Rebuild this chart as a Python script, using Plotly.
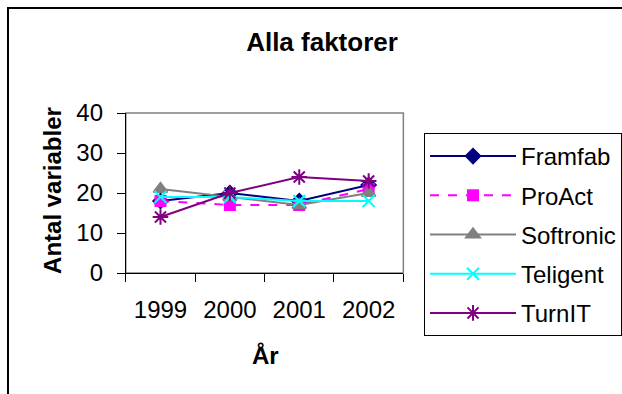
import plotly.graph_objects as go

W, H = 622, 394
years = ["1999", "2000", "2001", "2002"]
framfab = [18, 20, 18, 22]
proact = [18, 17, 17, 21]
softronic = [21, 19, 17, 20]
teligent = [19, 19, 18, 18]
turnit = [14, 20, 24, 23]

series = [
    ("Framfab", framfab, "#000080", "diamond", 11, "solid"),
    ("ProAct", proact, "#FF00FF", "square", 10, "dash"),
    ("Softronic", softronic, "#808080", "triangle-up", 12, "solid"),
    ("Teligent", teligent, "#00FFFF", "x-thin-open", 12, "solid"),
    ("TurnIT", turnit, "#800080", "asterisk-open", 13, "solid"),
]

FONT = "Liberation Sans, Arial, sans-serif"
fig = go.Figure()
for name, vals, col, sym, sz, dash in series:
    fig.add_trace(go.Scatter(
        x=years, y=vals, name=name, mode="lines+markers", legendgroup=name,
        line=dict(color=col, width=2, dash=dash),
        marker=dict(symbol=sym, size=sz, color=col, line=dict(color=col, width=2)),
    ))

px0, px1 = 126, 404
py0, py1 = 113, 273
fig.update_layout(
    template="none",
    width=W, height=H,
    margin=dict(l=0, r=0, t=0, b=0),
    paper_bgcolor="white", plot_bgcolor="white",
    font=dict(family=FONT, size=24, color="black"),
    showlegend=True,
    title=dict(text="<b>Alla faktorer</b>", x=322 / W, y=1 - 42 / H,
               xanchor="center", yanchor="middle",
               font=dict(family=FONT, size=26, color="black")),
    xaxis=dict(domain=[px0 / W, px1 / W], type="category", range=[-0.5, 3.5],
               automargin=False,
               showline=True, linecolor="black", linewidth=1,
               ticks="outside", tickson="boundaries", ticklen=8, tickcolor="black",
               showgrid=False, zeroline=False, ticklabelstandoff=15),
    yaxis=dict(domain=[1 - py1 / H, 1 - py0 / H], range=[0, 40], dtick=10,
               automargin=False,
               showline=True, linecolor="black", linewidth=1,
               ticks="outside", ticklen=8, tickcolor="black",
               showgrid=False, zeroline=False, ticklabelstandoff=9),
    legend=dict(x=425 / W, y=1 - 133 / H, xanchor="left", yanchor="top",
                bordercolor="black", borderwidth=1, bgcolor="white",
                font=dict(family=FONT, size=24), itemwidth=86,
                tracegroupgap=5),
    annotations=[
        dict(text="<b>År</b>", x=266 / W, y=1 - 355 / H, xref="paper", yref="paper",
             showarrow=False, xanchor="center", yanchor="middle",
             font=dict(family=FONT, size=24)),
        dict(text="<b>Antal variabler</b>", x=52 / W, y=1 - 190 / H, xref="paper", yref="paper",
             showarrow=False, xanchor="center", yanchor="middle", textangle=-90,
             font=dict(family=FONT, size=24)),
    ],
    shapes=[
        dict(type="rect", xref="paper", yref="paper", x0=8 / W, x1=1.05, y0=-0.05, y1=1 - 8 / H,
             line=dict(color="black", width=2), layer="below"),
        dict(type="rect", xref="x domain", yref="y domain", x0=0, x1=1, y0=0, y1=1,
             line=dict(color="#808080", width=1.5), layer="below"),
    ],
)
fig.write_html("out.html")
